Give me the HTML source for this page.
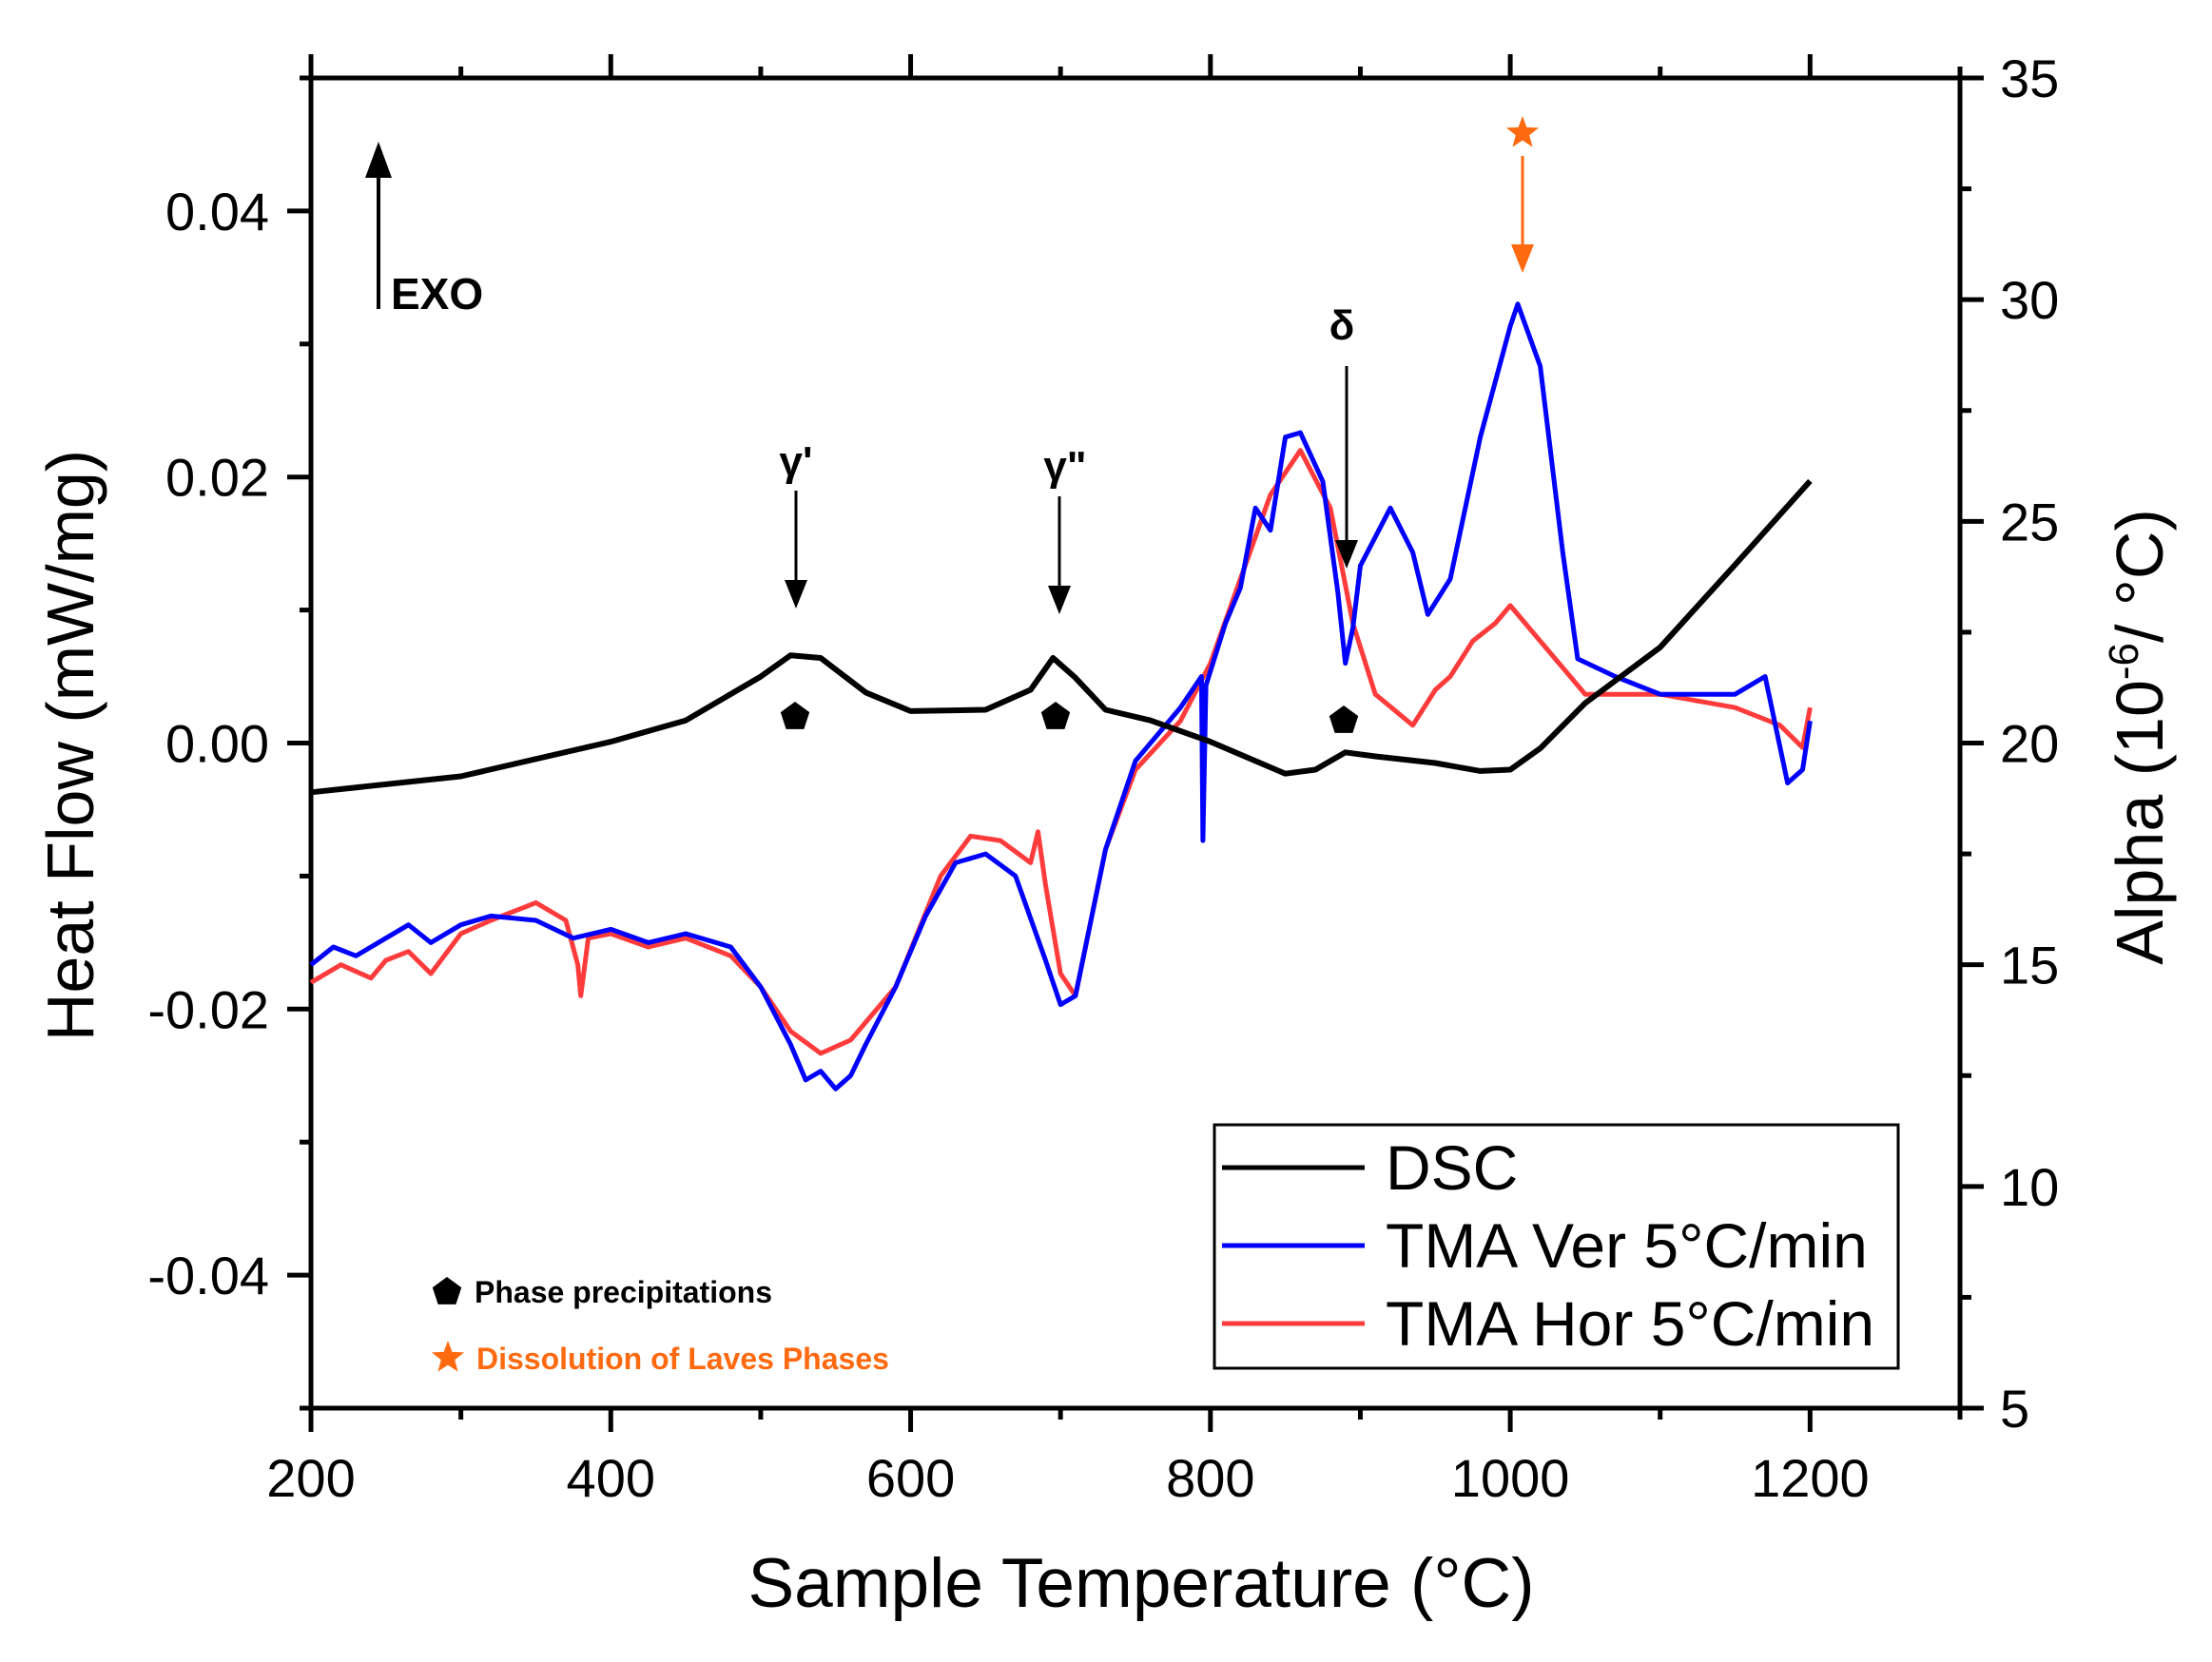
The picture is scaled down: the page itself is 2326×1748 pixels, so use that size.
<!DOCTYPE html>
<html><head><meta charset="utf-8"><style>
html,body{margin:0;padding:0;background:#fff;}
svg{display:block;font-family:"Liberation Sans",sans-serif;}
</style></head><body>
<svg id="chart" width="2326" height="1748" viewBox="0 0 2326 1748" xmlns="http://www.w3.org/2000/svg">
<rect width="2326" height="1748" fill="#fff"/>
<g id="axes"></g>
<g id="series"></g>
<g id="annot"></g>
</svg>
<script>
const xTicks=[200,400,600,800,1000,1200];
const leftTicks=[-0.04,-0.02,0.00,0.02,0.04];
const leftTickLabels=["-0.04","-0.02","0.00","0.02","0.04"];
const rightTicks=[5,10,15,20,25,30,35];
const dscT=[200,300,400,450,500,520,540,570,600,650,680,695,710,730,760,800,850,870,890,910,950,980,1000,1020,1050,1100,1150,1200];
const dscV=[-0.0037,-0.0025,0.0001,0.0017,0.005,0.0066,0.0064,0.0038,0.0024,0.0025,0.004,0.0064,0.0049,0.0025,0.0017,0.0001,-0.0023,-0.002,-0.0007,-0.001,-0.0015,-0.0021,-0.002,-0.0004,0.003,0.0072,0.0134,0.0197];
const verT=[200,215,230,250,265,280,300,320,350,375,400,425,450,480,500,520,530,540,550,560,570,590,610,630,650,670,690,700,710,730,750,780,794,795,797,810,820,830,840,850,860,875,885,890,895,900,920,935,945,960,980,1000,1005,1020,1035,1045,1070,1100,1150,1170,1185,1195,1200];
const verV=[15.0,15.4,15.2,15.6,15.9,15.5,15.9,16.1,16.0,15.6,15.8,15.5,15.7,15.4,14.5,13.2,12.4,12.6,12.2,12.5,13.2,14.5,16.1,17.3,17.5,17.0,15.1,14.1,14.3,17.6,19.6,20.8,21.5,17.8,21.3,22.7,23.5,25.3,24.8,26.9,27.0,25.9,23.4,21.8,22.6,24.0,25.3,24.3,22.9,23.7,26.9,29.4,29.9,28.5,24.3,21.9,21.5,21.1,21.1,21.5,19.1,19.4,20.5];
const horT=[200,220,240,250,265,280,300,320,350,370,378,380,385,400,425,450,480,500,520,540,560,590,620,640,660,680,685,690,700,710,730,750,780,800,820,840,860,880,895,910,935,950,960,975,990,1000,1020,1050,1100,1150,1180,1195,1200];
const horV=[14.6,15.0,14.7,15.1,15.3,14.8,15.7,16.0,16.4,16.0,15.0,14.3,15.6,15.7,15.4,15.6,15.2,14.5,13.5,13.0,13.3,14.5,17.0,17.9,17.8,17.3,18.0,16.8,14.8,14.3,17.6,19.4,20.5,21.8,23.7,25.6,26.6,25.3,22.7,21.1,20.4,21.2,21.5,22.3,22.7,23.1,22.3,21.1,21.1,20.8,20.4,19.9,20.8];

const NS="http://www.w3.org/2000/svg";
const L=327,R=2061,T=82,B=1481;
const X=t=>L+(t-200)*(R-L)/1100;
const YL=v=>T+(0.05-v)*(B-T)/0.1;
const YR=v=>T+(35-v)*(B-T)/30;
function mk(tag,attrs,parent,text){const e=document.createElementNS(NS,tag);for(const k in attrs)e.setAttribute(k,attrs[k]);if(text!==undefined)e.textContent=text;parent.appendChild(e);return e;}
const ax=document.getElementById('axes'),se=document.getElementById('series'),an=document.getElementById('annot');
const sw=5;
let e;
e=mk('line',{x1:L,y1:B,x2:R,y2:B,stroke:'#000','stroke-width':sw},ax);


e=mk('line',{x1:L,y1:T,x2:R,y2:T,stroke:'#000','stroke-width':sw},ax);


e=mk('line',{x1:L,y1:T,x2:L,y2:B,stroke:'#000','stroke-width':sw},ax);


e=mk('line',{x1:R,y1:T,x2:R,y2:B,stroke:'#000','stroke-width':sw},ax);


for(let t=200;t<=1300;t+=100){const maj=(t%200===0);const len=maj?25:12;const x=X(t);
 mk('line',{x1:x,y1:B,x2:x,y2:B+len,stroke:'#000','stroke-width':sw},ax);
 mk('line',{x1:x,y1:T,x2:x,y2:T-len,stroke:'#000','stroke-width':sw},ax);}
xTicks.forEach(t=>{e=mk('text',{x:X(t),y:1574,'font-size':56,'text-anchor':'middle'},ax,String(t));
 
 });
for(let i=-5;i<=5;i++){const v=i*0.01;const maj=(i%2===0);const y=YL(v);
 mk('line',{x1:L,y1:y,x2:L-(maj?25:12),y2:y,stroke:'#000','stroke-width':sw},ax);}
leftTicks.forEach((v,i)=>{e=mk('text',{x:283,y:YL(v)+20,'font-size':56,'text-anchor':'end'},ax,leftTickLabels[i]);
 
 });
for(let v=5;v<=35;v+=2.5){const maj=(v%5===0);const y=YR(v);
 mk('line',{x1:R,y1:y,x2:R+(maj?25:12),y2:y,stroke:'#000','stroke-width':sw},ax);}
rightTicks.forEach(v=>{e=mk('text',{x:2103,y:YR(v)+20,'font-size':56,'text-anchor':'start'},ax,String(v));
 
 });
e=mk('text',{x:1200,y:1690,'font-size':73,'text-anchor':'middle'},ax,'Sample Temperature (°C)');


e=mk('text',{x:0,y:0,'font-size':70,'text-anchor':'middle',transform:'translate(98,784) rotate(-90)'},ax,'Heat Flow (mW/mg)');


e=mk('text',{x:0,y:0,'font-size':70,'text-anchor':'middle',transform:'translate(2274,775) rotate(-90)'},ax);


e.innerHTML='Alpha (10<tspan dy="-26" font-size="44">-6</tspan><tspan dy="26">/ °C)</tspan>';
function path(ts,vs,yf){return ts.map((t,i)=>(i?'L':'M')+X(t).toFixed(1)+','+yf(vs[i]).toFixed(1)).join(' ');}
e=mk('path',{d:path(horT,horV,YR),fill:'none',stroke:'#ff3b3b','stroke-width':5,'stroke-linejoin':'round'},se);


e=mk('path',{d:path(verT,verV,YR),fill:'none',stroke:'#0000ff','stroke-width':5,'stroke-linejoin':'round'},se);


e=mk('path',{d:path(dscT,dscV,YL),fill:'none',stroke:'#000','stroke-width':6,'stroke-linejoin':'round'},se);


function arrow(x,y1,y2,col,w,hw,hl){mk('line',{x1:x,y1:y1,x2:x,y2:y2-(y2>y1?hl:-hl),stroke:col,'stroke-width':w},an);
 const d=y2>y1?1:-1;mk('polygon',{points:`${x-hw},${y2-d*hl} ${x+hw},${y2-d*hl} ${x},${y2}`,fill:col},an);}
arrow(398,325,149,'#000',4,14,38);
e=mk('text',{x:411,y:325,'font-size':46,'font-weight':'bold'},an,'EXO');


arrow(837,516,640,'#000',3,12,30);
arrow(1114,522,646,'#000',3,12,30);
arrow(1416,385,598,'#000',3,12,30);
arrow(1601,164,287,'#ff6a10',3,12,30);
e=mk('text',{x:837,y:500,'font-size':44,'font-weight':'bold','text-anchor':'middle'},an,"γ'");


e=mk('text',{x:1120,y:505,'font-size':44,'font-weight':'bold','text-anchor':'middle'},an,'γ"');


e=mk('text',{x:1411,y:357,'font-size':44,'font-weight':'bold','text-anchor':'middle'},an,'δ');


function pent(cx,cy,r){let p=[];for(let i=0;i<5;i++){const a=-Math.PI/2+i*2*Math.PI/5;p.push((cx+r*Math.cos(a)).toFixed(1)+','+(cy+r*Math.sin(a)).toFixed(1));}return mk('polygon',{points:p.join(' '),fill:'#000'},an);}
function star(cx,cy,r,col){let p=[];for(let i=0;i<10;i++){const a=-Math.PI/2+i*Math.PI/5;const rr=i%2?r*0.42:r;p.push((cx+rr*Math.cos(a)).toFixed(1)+','+(cy+rr*Math.sin(a)).toFixed(1));}return mk('polygon',{points:p.join(' '),fill:col},an);}
[[836,754],[1110,754],[1413,758],[470,1359]].forEach(c=>{e=pent(c[0],c[1],16);
 
 });
e=star(1601,140,18,'#ff6a10');


e=star(471,1428,18,'#ff6a10');


e=mk('text',{x:499,y:1370,'font-size':32,'font-weight':'bold'},an,'Phase precipitations');


e=mk('text',{x:501,y:1440,'font-size':32,'font-weight':'bold',fill:'#ff6a10'},an,'Dissolution of Laves Phases');


const lg=mk('g',{},an);


mk('rect',{x:1277,y:1183,width:719,height:256,fill:'#fff',stroke:'#000','stroke-width':3},lg);
[['DSC','#000',1228],['TMA Ver 5°C/min','#0000ff',1310],['TMA Hor 5°C/min','#ff3b3b',1392]].forEach(it=>{
 const g=mk('g',{},lg);
 
 
 mk('line',{x1:1285,y1:it[2],x2:1435,y2:it[2],stroke:it[1],'stroke-width':5},g);
 mk('text',{x:1457,y:it[2]+23,'font-size':66},g,it[0]);});
</script>
</body></html>
